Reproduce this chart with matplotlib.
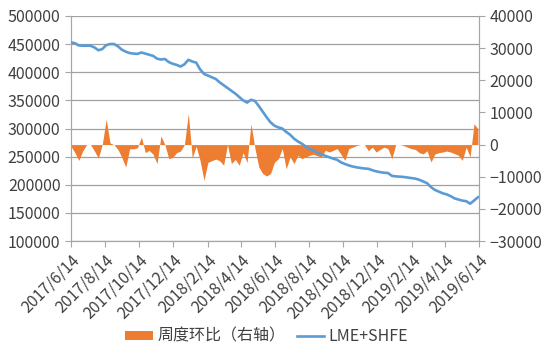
import matplotlib
matplotlib.use('Agg')
import matplotlib.pyplot as plt
import matplotlib.dates as mdates
import numpy as np
import pandas as pd

plt.rcParams['font.family'] = ['Noto Sans CJK SC', 'DejaVu Sans']

# ==========================================
# DATA (weekly)
# ==========================================
dates = pd.date_range('2017-06-14', periods=105, freq='7D')

stock = [
    453000, 451500, 447500, 447000, 447000, 447000, 444000, 439000, 441000, 448000,
    450000, 450000, 446000, 440000, 436500, 434000, 433000, 432500, 435000, 433000,
    431000, 429000, 424000, 422500, 423500, 418000, 415000, 413000, 410000, 414000,
    422000, 419000, 417000, 405000, 397000, 394000, 391000, 388000, 382000, 377000,
    372000, 367000, 362000, 356000, 350000, 346000, 351000, 349000, 340000, 330000,
    320000, 311000, 305000, 302000, 300000, 294000, 289000, 282000, 277000, 273000,
    268000, 263500, 261000, 257000, 254000, 251500, 249000, 246500, 244500, 240000,
    237000, 234500, 232500, 231000, 230000, 229000, 228500, 226000, 224000, 222500,
    221500, 221000, 216000, 215000, 214500, 214000, 213000, 212000, 211000, 209000,
    206000, 203000, 196000, 191000, 188000, 185000, 183000, 180000, 176000, 174000,
    172000, 171000, 166500, 172000, 178000,
]

weekly_change = [
    -500, -2500, -4900, -2000, 0, 0, -2000, -4150, 0, 7900,
    500, 0, -1500, -4000, -6950, -1300, -1300, -1000, 2400, -2500,
    -1800, -3000, -5900, 2700, 0, -4360, -4000, -2500, -2000, 0,
    9650, -4150, -500, -5000, -11100, -5500, -5000, -4500, -5000, -6400,
    0, -5900, -4600, -6400, -2500, -5600, 6500, -1000, -6950, -9000,
    -9750, -9000, -5500, -4360, -1250, -7500, -3840, -5900, -3320, -4360,
    -3840, -3320, -3000, -3500, -3840, -1770, -2290, -1800, -1250, -3000,
    -4900, -1250, -800, -300, 0, 0, -1900, -800, -2300, -1500,
    -800, -1250, -4360, 0, 0, -300, -800, -1250, -1500, -2500,
    -2900, -1900, -5400, -2900, -2500, -2300, -2000, -2300, -2800, -3300,
    -4900, -800, -3800, 6500, 4900,
]

start = pd.Timestamp('2017-06-14')
tick_dates = [start + pd.DateOffset(months=2 * k) for k in range(13)]
left_ticks = np.arange(100000, 500001, 50000)
right_ticks = np.arange(-30000, 40001, 10000)

# ==========================================
# PLOT
# ==========================================
orange = '#ED7D31'
blue = '#5B9BD5'
axis_gray = '#a6a6a6'
text_gray = '#404040'
fs = 11.5

fig = plt.figure(figsize=(5.5, 3.61), dpi=100)
ax = fig.add_axes([0.129, 0.332, 0.742, 0.624])
ax_bar = ax.twinx()
ax_line = ax.twinx()

# left axis + gridlines
ax.set_ylim(100000, 500000)
ax.set_yticks(left_ticks)
ax.yaxis.grid(True, color='#a0a0a0', linewidth=0.9)
ax.set_axisbelow(True)

# orange area on the right axis
ax_bar.fill_between(dates, 0, weekly_change, color=orange, linewidth=0, label='周度环比（右轴）')
ax_bar.set_ylim(-30000, 40000)
ax_bar.set_yticks(right_ticks)

# blue line on the left scale, drawn on top
ax_line.plot(dates, stock, color=blue, linewidth=1.9, label='LME+SHFE')
ax_line.set_ylim(100000, 500000)
ax_line.axis('off')

ax.set_xlim(start, pd.Timestamp('2019-06-14'))
ax.set_xticks(tick_dates)
ax.xaxis.set_major_formatter(mdates.DateFormatter('%Y/%-m/%-d'))
for lbl in ax.get_xticklabels():
    lbl.set_rotation(45)
    lbl.set_ha('right')
    lbl.set_rotation_mode('anchor')

for a in (ax, ax_bar):
    a.spines['top'].set_visible(False)
    for side in ('left', 'right', 'bottom'):
        a.spines[side].set_color(axis_gray)
    a.tick_params(colors=text_gray, labelsize=fs, length=4, color=axis_gray, width=0.8)

handles = [ax_bar.collections[0], ax_line.lines[0]]
fig.legend(handles, [h.get_label() for h in handles], loc='center', bbox_to_anchor=(0.485, 0.068),
           ncol=2, frameon=False, fontsize=fs, handlelength=1.75, handleheight=0.45,
           handletextpad=0.25, columnspacing=0.7, labelcolor=text_gray)

fig.savefig('out.png', dpi=100)
